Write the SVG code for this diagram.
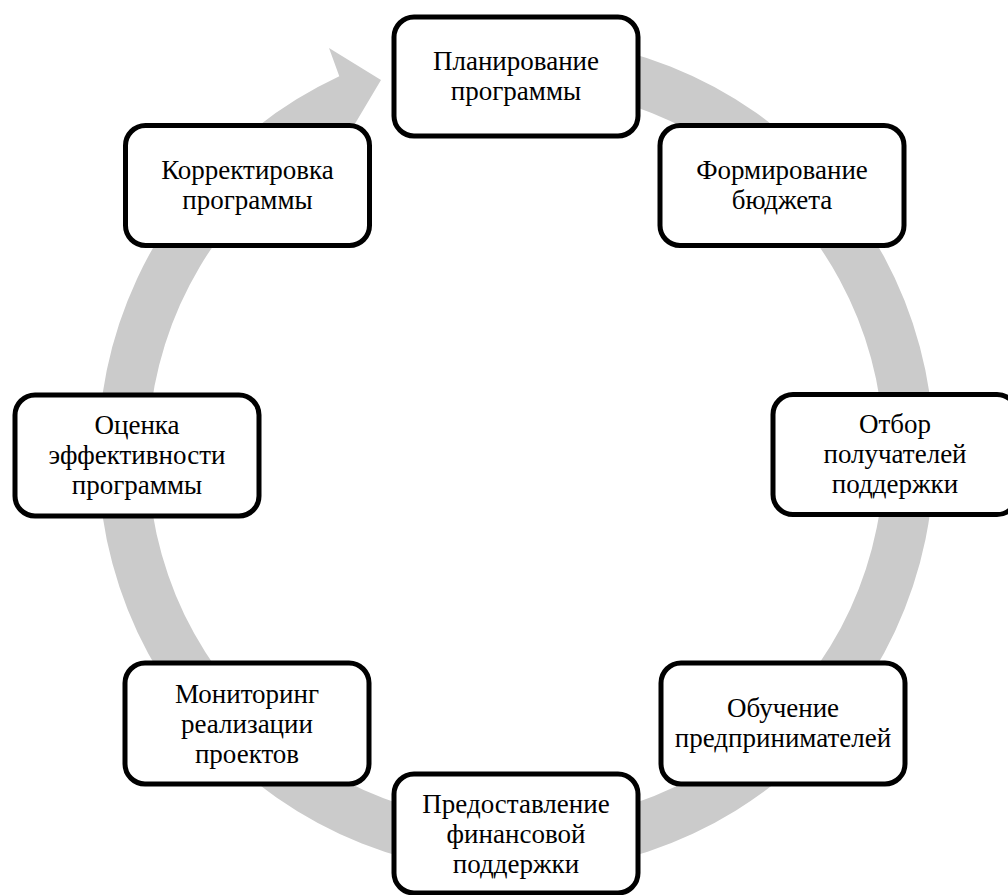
<svg xmlns="http://www.w3.org/2000/svg" width="1008" height="895" viewBox="0 0 1008 895">
<style>
.box{fill:#ffffff;stroke:#000000;stroke-width:5}
.lbl{font-family:"Liberation Serif","Times New Roman",serif;font-size:27px;fill:#000000;text-anchor:middle}
.band{fill:#cbcbcb;stroke:none}
</style>
<rect width="1008" height="895" fill="#ffffff"/>
<g id="connectors">
<path class="band" d="M 624.2 51.2 A 418 418 0 1 1 339.3 76.2 L 329 48 L 381 80 L 354.7 124.2 A 368 368 0 1 0 611.2 99.5 Z"/>
</g>
<g id="n1">
<rect class="box" x="394" y="17" width="244" height="119" rx="20"/>
<text class="lbl" x="516" y="70">Планирование</text>
<text class="lbl" x="516" y="100">программы</text>
</g>
<g id="n2">
<rect class="box" x="660" y="125.5" width="244" height="120" rx="20"/>
<text class="lbl" x="782" y="179">Формирование</text>
<text class="lbl" x="782" y="209">бюджета</text>
</g>
<g id="n3">
<rect class="box" x="773" y="394.5" width="244" height="120" rx="20"/>
<text class="lbl" x="895" y="433">Отбор</text>
<text class="lbl" x="895" y="463">получателей</text>
<text class="lbl" x="895" y="493">поддержки</text>
</g>
<g id="n4">
<rect class="box" x="661" y="663" width="244" height="121" rx="20"/>
<text class="lbl" x="783" y="717">Обучение</text>
<text class="lbl" x="783" y="747">предпринимателей</text>
</g>
<g id="n5">
<rect class="box" x="394" y="774" width="244" height="119" rx="20"/>
<text class="lbl" x="516" y="813">Предоставление</text>
<text class="lbl" x="516" y="843">финансовой</text>
<text class="lbl" x="516" y="873">поддержки</text>
</g>
<g id="n6">
<rect class="box" x="125" y="663" width="244" height="121" rx="20"/>
<text class="lbl" x="247" y="703">Мониторинг</text>
<text class="lbl" x="247" y="733">реализации</text>
<text class="lbl" x="247" y="763">проектов</text>
</g>
<g id="n7">
<rect class="box" x="15" y="395" width="244" height="121" rx="20"/>
<text class="lbl" x="137" y="434">Оценка</text>
<text class="lbl" x="137" y="464">эффективности</text>
<text class="lbl" x="137" y="494">программы</text>
</g>
<g id="n8">
<rect class="box" x="125.5" y="125.5" width="244" height="120" rx="20"/>
<text class="lbl" x="247.5" y="179">Корректировка</text>
<text class="lbl" x="247.5" y="209">программы</text>
</g>
</svg>
